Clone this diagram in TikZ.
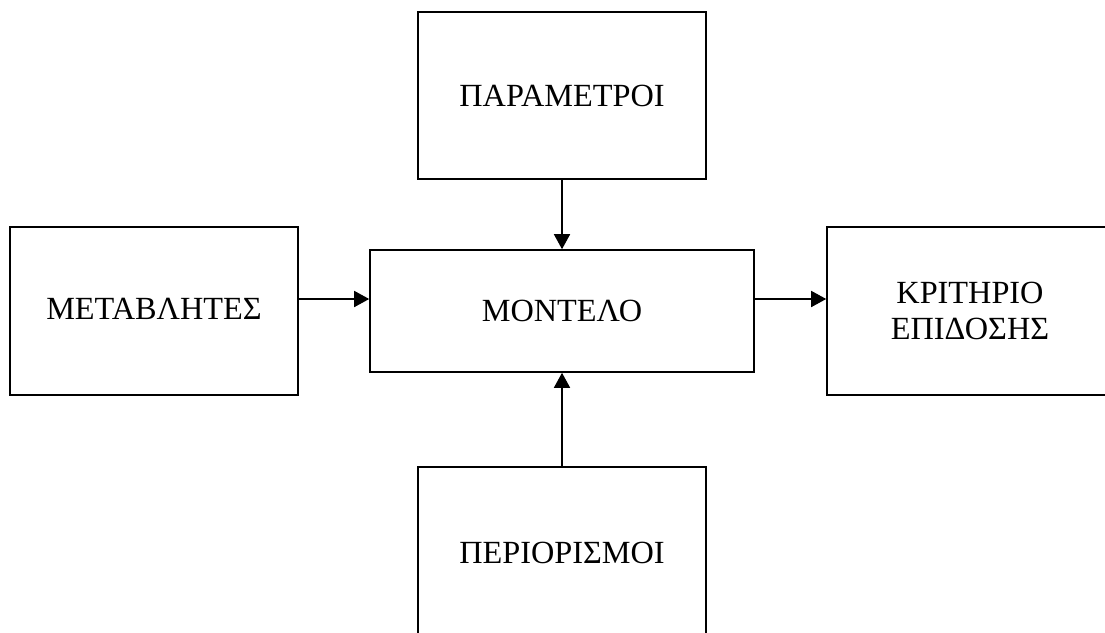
\documentclass[tikz,border=0pt]{standalone}
\usepackage{fontspec}
\setmainfont{Liberation Serif}
\usetikzlibrary{arrows.meta}
\begin{document}
\begin{tikzpicture}[x=1pt,y=-1pt,
  box/.style={draw=black,line width=1.6pt,rectangle,inner sep=0pt,align=center,
    font=\fontsize{32.3}{36}\selectfont},
  conn/.style={draw=black,line width=1.6pt,-{Triangle[width=16pt,length=15pt]}}]
\useasboundingbox (0,0) rectangle (1105,632);
\clip (0,0) rectangle (1105,632);
\fill[white] (0,0) rectangle (1105,632);
\node[box,minimum width=288pt,minimum height=167pt] (par) at (562,95.5) {ΠΑΡΑΜΕΤΡΟΙ};
\node[box,minimum width=288pt,minimum height=168pt] (met) at (154,311) {\raisebox{5pt}{ΜΕΤΑΒΛΗΤΕΣ}};
\node[box,minimum width=384pt,minimum height=122pt] (mod) at (562,311) {\raisebox{-6pt}{ΜΟΝΤΕΛΟ}};
\node[box,minimum width=286pt,minimum height=168pt] (kri) at (970,311) {ΚΡΙΤΗΡΙΟ\\ΕΠΙΔΟΣΗΣ};
\node[box,minimum width=288pt,minimum height=171pt] (per) at (562,552.5) {ΠΕΡΙΟΡΙΣΜΟΙ};
\coordinate (h) at (0,299);
\draw[conn] (par.south) -- (mod.north);
\draw[conn] (per.north) -- (mod.south);
\draw[conn] (met.east |- h) -- (mod.west |- h);
\draw[conn] (mod.east |- h) -- (kri.west |- h);
\end{tikzpicture}
\end{document}
